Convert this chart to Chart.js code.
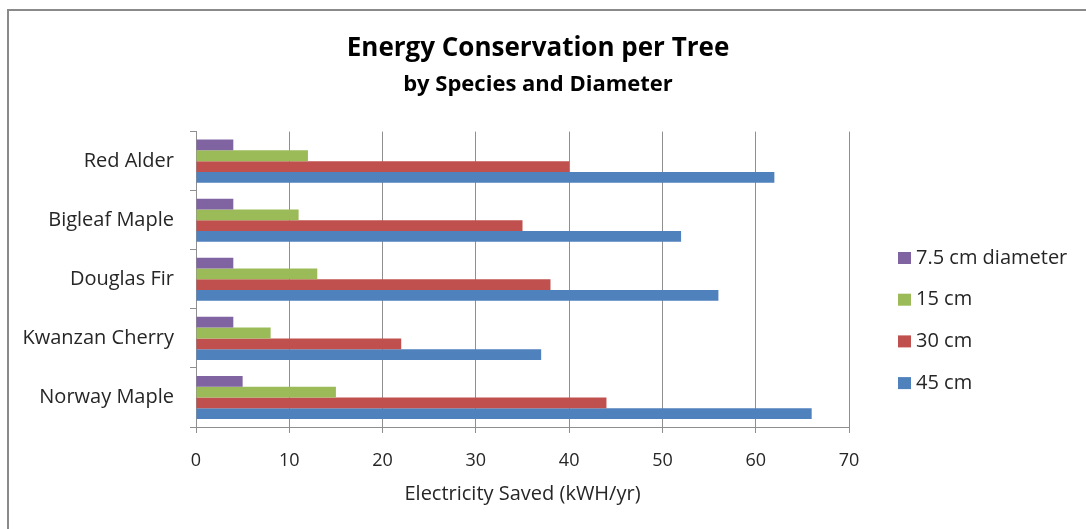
<!DOCTYPE html>
<html>
<head>
<meta charset="utf-8">
<script src="https://cdn.jsdelivr.net/npm/chart.js@4.4.1/dist/chart.umd.min.js"></script>
<style>
  html, body { margin: 0; padding: 0; background: #ffffff; }
  #wrap { position: relative; width: 1086px; height: 529px; overflow: hidden; }
  #frame {
    position: absolute; left: 7px; top: 9px; width: 1100px; height: 540px;
    border-left: 2px solid #8a8a8a; border-top: 2px solid #8a8a8a;
    pointer-events: none;
  }
  canvas { display: block; }
</style>
</head>
<body>
<div id="wrap">
  <canvas id="chart" width="1086" height="529"></canvas>
  <div id="frame"></div>
</div>
<script>
// Species shown on the vertical axis, top to bottom
const species = ['Red Alder', 'Bigleaf Maple', 'Douglas Fir', 'Kwanzan Cherry', 'Norway Maple'];

// Electricity saved per tree (kWh/yr) by trunk diameter
const dia7_5 = [4, 4, 4, 4, 5];
const dia15  = [12, 11, 13, 8, 15];
const dia30  = [40, 35, 38, 22, 44];
const dia45  = [62, 52, 56, 37, 66];

const seriesNames = ['7.5 cm diameter', '15 cm', '30 cm', '45 cm'];
const xTicks = [0, 10, 20, 30, 40, 50, 60, 70];

const FONT = '"Open Sans", "Noto Sans", sans-serif';
const TEXT = '#262626';
const GRID = '#8f8f8f';

// Key drawn in the space right of the plot
const sideKey = {
  id: 'sideKey',
  afterDraw(chart) {
    const ctx = chart.ctx;
    const x0 = 898, yStart = 258, step = 41.7;
    ctx.save();
    ctx.font = '20px ' + FONT;
    ctx.textBaseline = 'middle';
    ctx.textAlign = 'left';
    chart.data.datasets.forEach((ds, i) => {
      const y = yStart + i * step;
      ctx.fillStyle = ds.backgroundColor;
      ctx.fillRect(x0, y - 6, 13, 12);
      ctx.fillStyle = TEXT;
      ctx.fillText(ds.label, x0 + 18, y);
    });
    ctx.restore();
  }
};

new Chart(document.getElementById('chart'), {
  type: 'bar',
  data: {
    labels: species,
    datasets: [
      { label: seriesNames[0], data: dia7_5, backgroundColor: '#8064A2' },
      { label: seriesNames[1], data: dia15,  backgroundColor: '#9BBB59' },
      { label: seriesNames[2], data: dia30,  backgroundColor: '#C0504D' },
      { label: seriesNames[3], data: dia45,  backgroundColor: '#4F81BD' }
    ]
  },
  options: {
    indexAxis: 'y',
    responsive: false,
    animation: false,
    devicePixelRatio: 1,
    layout: { padding: { left: 0, right: 10, top: 0, bottom: 0 } },
    datasets: {
      bar: { categoryPercentage: 0.73, barPercentage: 1.0, borderWidth: 0 }
    },
    plugins: {
      legend: { display: false },
      tooltip: { enabled: false },
      title: {
        display: true,
        text: 'Energy Conservation per Tree',
        color: '#000000',
        font: { family: FONT, size: 26, weight: 'bold' },
        padding: { top: 33, bottom: 4 }
      },
      subtitle: {
        display: true,
        text: 'by Species and Diameter',
        color: '#000000',
        font: { family: FONT, size: 22, weight: 'bold' },
        padding: { top: 3, bottom: 34 }
      }
    },
    scales: {
      x: {
        min: 0,
        max: 70,
        afterBuildTicks(axis) { axis.ticks = xTicks.map(v => ({ value: v })); },
        afterFit(axis) { axis.height = 102; },
        grid: { color: GRID, lineWidth: 1, tickLength: 6, drawTicks: true },
        border: { display: true, color: GRID, width: 1 },
        ticks: { color: TEXT, font: { family: FONT, size: 18 }, padding: 17, maxRotation: 0 },
        title: {
          display: true,
          text: 'Electricity Saved (kWH/yr)',
          color: TEXT,
          font: { family: FONT, size: 20 },
          padding: { top: 6, bottom: 23 }
        }
      },
      y: {
        afterFit(axis) { axis.width = 196; },
        grid: { offset: true, drawOnChartArea: false, color: GRID, tickLength: 6 },
        border: { display: true, color: GRID, width: 1 },
        ticks: { color: TEXT, font: { family: FONT, size: 20 }, padding: 16 }
      },
      // Empty right-hand band that keeps room for the key
      keySpace: {
        type: 'category',
        position: 'right',
        display: true,
        afterFit(axis) { axis.width = 227; },
        grid: { display: false, drawTicks: false },
        border: { display: false },
        ticks: { display: false }
      }
    }
  },
  plugins: [sideKey]
});
</script>
</body>
</html>
